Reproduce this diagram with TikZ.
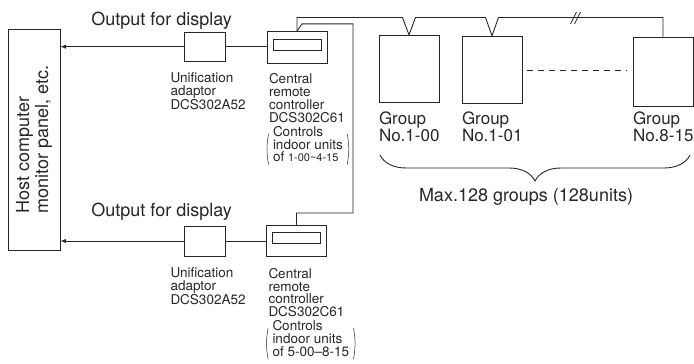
\documentclass[tikz,border=0pt]{standalone}
\usepackage{fontspec}
\setmainfont{TeX Gyre Heros}
\usetikzlibrary{positioning,decorations.pathreplacing}

\begin{document}
\begin{tikzpicture}[x=1pt, y=-1pt, >=latex, line width=0.9pt, color=black!85,
    unitbox/.style={draw, rectangle, inner sep=0pt},
    textsmall/.style={font=\fontsize{13.5}{12.8}\selectfont, align=left, inner sep=0pt, anchor=north west},
    textgroup/.style={font=\fontsize{17}{17}\selectfont, align=left, inner sep=0pt},
    textbig/.style={font=\fontsize{18}{19}\selectfont, inner sep=0pt},
    paren/.style={line width=0.5pt}]
    \useasboundingbox (0,0) rectangle (694,364);

    % Host computer
    \node[unitbox, rotate=90, minimum width=221pt, minimum height=52pt, align=left, font=\fontsize{18}{19}\selectfont] (host) at (34,139.5) {Host computer\\monitor panel, etc.};

    % Upper line
    \node[unitbox, minimum width=41pt, minimum height=29pt] (adA) at (204.5,46.7) {};
    \node[unitbox, minimum width=60pt, minimum height=31.5pt] (ctrA) at (297,47.5) {};
    \node[unitbox, minimum width=48pt, minimum height=11pt] (dispA) at ([yshift=3pt]ctrA.center) {};

    % Lower line
    \node[unitbox, minimum width=41pt, minimum height=30pt] (adB) at (204.5,241) {};
    \node[unitbox, minimum width=60pt, minimum height=30.5pt] (ctrB) at (296.5,241) {};
    \node[unitbox, minimum width=48pt, minimum height=11pt] (dispB) at ([yshift=3pt]ctrB.center) {};

    % Indoor unit groups
    \node[unitbox, minimum width=60pt, minimum height=67.5pt] (grpA) at (409,69) {};
    \node[unitbox, minimum width=60pt, minimum height=67.5pt] (grpB) at (492,70) {};
    \node[unitbox, minimum width=60pt, minimum height=69pt] (grpC) at (663,71.5) {};

    % Connections
    \draw[->] (adA.west) -- (adA.west -| host.south);
    \draw (adA.east) -- (adA.east -| ctrA.west);
    \draw[->] (adB.west) -- (adB.west -| host.south);
    \draw (adB.east) -- (adB.east -| ctrB.west);

    \coordinate (bus) at (0,17.5);
    \draw (ctrA.north) |- ([xshift=-6.5pt]grpA.north |- bus) -- (grpA.north) -- ([xshift=6.5pt]grpA.north |- bus)
        -- ([xshift=-6.5pt]grpB.north |- bus) -- (grpB.north) -- ([xshift=6.5pt]grpB.north |- bus) -| (grpC.north);
    \coordinate (brk) at (575,18);
    \draw[line width=0.7pt] ([shift={(-4.5,6)}]brk) -- ([shift={(1.5,-6)}]brk);
    \draw[line width=0.7pt] ([shift={(-0.5,6)}]brk) -- ([shift={(5.5,-6)}]brk);

    \coordinate (loopR) at (353,213);
    \draw (ctrA.north) -- ++(5,-7.5) -| (loopR) -| (ctrB.north);

    \draw[dash pattern=on 6pt off 5pt] ([xshift=5pt]grpB.east) -- ([xshift=-6pt]grpB.east -| grpC.west);

    \coordinate (brL) at (380,155);
    \coordinate (brR) at (690,155);
    \draw[decorate, decoration={brace, amplitude=26pt}] (brR) -- (brL);

    % Labels
    \node[textbig, anchor=west] (outA) at (91,20.3) {Output for display};
    \node[textbig, anchor=west] (outB) at (91,212) {Output for display};

    \node[textsmall] (adAtxt) at ([xshift=-13.5pt, yshift=-10.5pt]adA.south west) {Unification\\adaptor\\DCS302A52};
    \node[textsmall] (ctrAtxt) at ([xshift=2pt, yshift=-9.5pt]ctrA.south west) {Central\\remote\\controller\\DCS302C61};
    \node[textsmall, inner xsep=4pt, below right=2.9pt and 0pt of ctrAtxt.south west] (ctrAsub) {Controls\\indoor units\\of {\fontsize{11}{12.8}\selectfont 1-00\textasciitilde 4-15}};
    \draw[paren] ([yshift=-8pt]ctrAsub.north west) to[bend right=10] ([yshift=-2pt]ctrAsub.south west);
    \draw[paren] ([yshift=-8pt]ctrAsub.north east) to[bend left=10] ([yshift=-2pt]ctrAsub.south east);

    \node[textsmall] (adBtxt) at ([xshift=-13.5pt, yshift=-11pt]adB.south west) {Unification\\adaptor\\DCS302A52};
    \node[textsmall] (ctrBtxt) at ([xshift=2pt, yshift=-11pt]ctrB.south west) {Central\\remote\\controller\\DCS302C61};
    \node[textsmall, inner xsep=4pt, below right=2.9pt and 0pt of ctrBtxt.south west] (ctrBsub) {Controls\\indoor units\\of 5-00--8-15};
    \draw[paren] ([yshift=-8pt]ctrBsub.north west) to[bend right=10] ([yshift=-2pt]ctrBsub.south west);
    \draw[paren] ([yshift=-8pt]ctrBsub.north east) to[bend left=10] ([yshift=-2pt]ctrBsub.south east);

    \node[textgroup, below right=8pt and 0pt of grpA.south west] (grpAtxt) {Group\\No.1-00};
    \node[textgroup, below right=7pt and 0pt of grpB.south west] (grpBtxt) {Group\\No.1-01};
    \node[textgroup, below right=5pt and 0pt of grpC.south west] (grpCtxt) {Group\\No.8-15};

    \node[textbig] (maxtxt) at (526,197) {Max.128 groups (128units)};
\end{tikzpicture}
\end{document}
